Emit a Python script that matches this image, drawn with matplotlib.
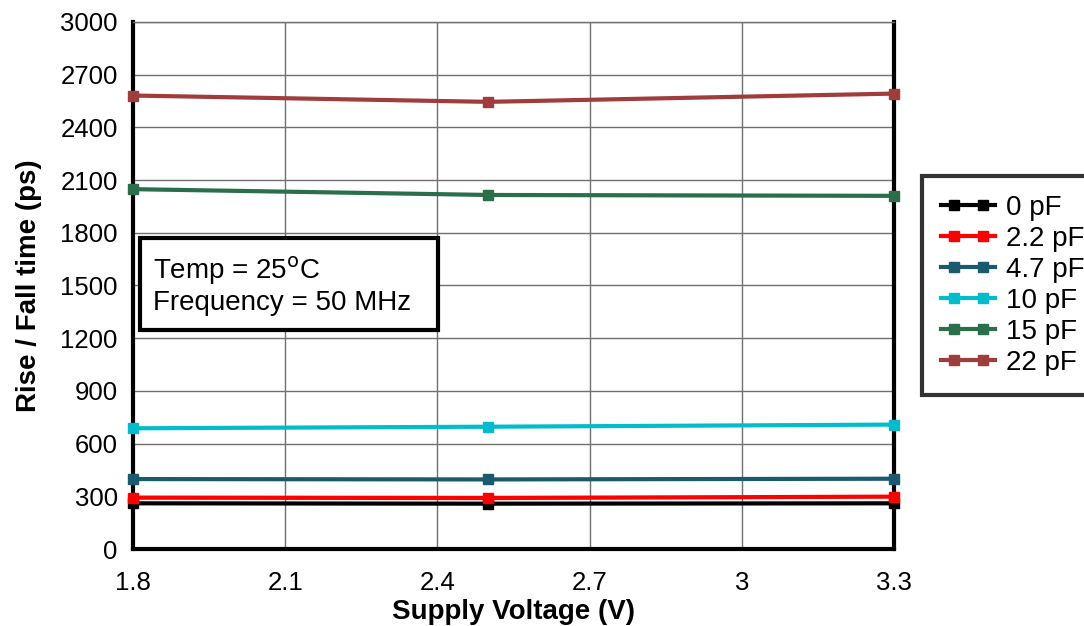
import numpy as np
import matplotlib.pyplot as plt
from matplotlib.legend_handler import HandlerLine2DCompound
from matplotlib.patches import Rectangle

plt.rcParams['font.family'] = ['Liberation Sans', 'DejaVu Sans']

voltage = [1.8, 2.5, 3.3]
labels = ["0 pF", "2.2 pF", "4.7 pF", "10 pF", "15 pF", "22 pF"]
cap_0 = [260, 258, 260]
cap_2p2 = [292, 290, 298]
cap_4p7 = [398, 396, 400]
cap_10 = [687, 696, 708]
cap_15 = [2048, 2015, 2010]
cap_22 = [2581, 2545, 2592]
colors = ["#000000", "#ff0000", "#1a5a6e", "#00bccc", "#2a6e4a", "#a03c3c"]

xticks = [1.8, 2.1, 2.4, 2.7, 3.0, 3.3]
xtick_labels = ["1.8", "2.1", "2.4", "2.7", "3", "3.3"]
yticks = list(range(0, 3001, 300))


# legend handle: full-length line with two markers set inwards
class TwoMarkerHandler(HandlerLine2DCompound):
    def get_xdata(self, legend, xdescent, ydescent, width, height, fontsize):
        xdata = np.array([-xdescent, -xdescent + width])
        xdata_marker = np.array([-xdescent + 0.24 * width, -xdescent + 0.77 * width])
        return xdata, xdata_marker


fig = plt.figure(figsize=(10.84, 6.26), dpi=100)
ax = fig.add_axes([0.1227, 0.123, 0.702, 0.842])

series = [cap_0, cap_2p2, cap_4p7, cap_10, cap_15, cap_22]
for vals, lab, col in zip(series, labels, colors):
    ax.plot(voltage, vals, color=col, lw=3, marker="s", ms=7,
            mec=col, mfc=col, label=lab, clip_on=False, zorder=3)

ax.set_xlim(1.8, 3.3)
ax.set_ylim(0, 3000)
ax.set_xticks(xticks)
ax.set_xticklabels(xtick_labels)
ax.set_yticks(yticks)
ax.grid(True, color="#707070", lw=1)
ax.tick_params(labelsize=18.5, length=0)
ax.tick_params(axis="x", pad=16)
ax.tick_params(axis="y", pad=11)

for side in ["left", "right", "bottom"]:
    ax.spines[side].set_linewidth(3)
    ax.spines[side].set_color("black")
ax.spines["top"].set_color("#707070")
ax.spines["top"].set_linewidth(1)

ax.set_xlabel("Supply Voltage (V)", fontsize=20, fontweight="bold", labelpad=3)
ax.set_ylabel("Rise / Fall time (ps)", fontsize=20, fontweight="bold", labelpad=13)

# condition box
ax.add_patch(Rectangle((0.0092, 0.4156), 0.3916, 0.1744, transform=ax.transAxes,
                       fc="white", ec="black", lw=3, zorder=5))
ax.text(0.026, 0.501, "Temp = 25$^{\\rm o}$C\nFrequency = 50 MHz", transform=ax.transAxes,
        fontsize=20, va="center", ha="left", linespacing=1.15, zorder=6)

leg = ax.legend(loc="center left", bbox_to_anchor=(1.018, 0.5), fontsize=20,
                frameon=True, fancybox=False, edgecolor="black", handlelength=1.95,
                labelspacing=0.18, borderpad=0.7, handletextpad=0.4,
                handler_map={plt.Line2D: TwoMarkerHandler()})
leg.get_frame().set_linewidth(3)

fig.savefig("out.png", dpi=100)
